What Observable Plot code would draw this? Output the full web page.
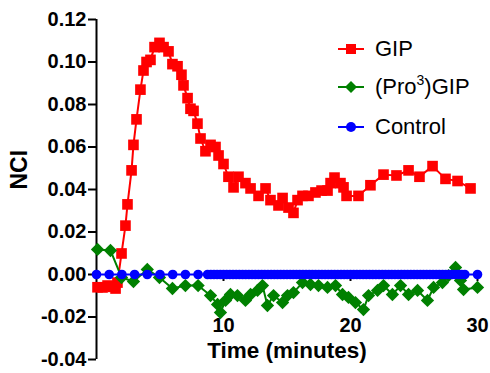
<!DOCTYPE html>
<html>
<head>
<meta charset="utf-8">
<script src="https://cdn.jsdelivr.net/npm/d3@7"></script>
<script src="https://cdn.jsdelivr.net/npm/@observablehq/plot@0.6"></script>
<style>
  html, body { margin: 0; padding: 0; background: #fff; }
  #wrap { position: relative; width: 490px; height: 373px; font-family: "Liberation Sans", Arial, sans-serif; }
  .row { position: absolute; left: 338px; height: 26px; display: flex; align-items: center; font-size: 22px; color: #000; white-space: nowrap; }
  .row svg { display: block; margin-right: 11px; }
  .sup { font-size: 14px; position: relative; top: -9px; }
</style>
</head>
<body>
<div id="wrap"></div>
<script>
// ---- Data ----
const gipTime = [0.08, 0.47, 0.87, 1.26, 1.5, 1.65, 1.97, 2.28, 2.44, 2.76, 2.91, 3.15, 3.46, 3.7, 3.94, 4.25, 4.57, 4.96, 5.28, 5.67, 5.98, 6.38, 6.69, 6.85, 7.17, 7.4, 7.64, 7.95, 8.19, 8.58, 8.98, 9.37, 9.61, 10.0, 10.39, 10.79, 11.18, 11.73, 12.13, 12.76, 13.31, 13.7, 14.33, 14.65, 15.12, 15.51, 15.83, 16.22, 16.69, 17.24, 17.72, 18.19, 18.43, 18.74, 19.21, 19.45, 19.69, 20.63, 21.57, 22.6, 23.62, 24.57, 25.43, 26.46, 27.48, 28.43, 29.45];
const gipValue = [-0.0060, -0.0061, -0.0052, -0.0058, -0.0066, -0.0038, 0.0099, 0.023, 0.033, 0.049, 0.061, 0.073, 0.087, 0.096, 0.100, 0.101, 0.107, 0.109, 0.107, 0.105, 0.099, 0.098, 0.094, 0.089, 0.083, 0.078, 0.077, 0.071, 0.064, 0.058, 0.061, 0.060, 0.056, 0.052, 0.046, 0.041, 0.046, 0.043, 0.0405, 0.037, 0.0405, 0.035, 0.0325, 0.036, 0.0315, 0.029, 0.035, 0.037, 0.037, 0.0386, 0.0395, 0.0395, 0.043, 0.0456, 0.043, 0.041, 0.037, 0.037, 0.042, 0.047, 0.0466, 0.049, 0.046, 0.051, 0.045, 0.044, 0.0405];

const proTime = [0.08, 1.1, 1.97, 2.91, 4.0, 4.96, 5.98, 7.0, 8.0, 8.98, 9.53, 9.76, 10.16, 10.55, 11.1, 11.73, 12.13, 12.68, 13.07, 13.46, 13.94, 14.65, 15.04, 15.51, 16.22, 16.85, 17.48, 18.19, 18.82, 19.37, 19.84, 20.39, 21.02, 21.42, 22.13, 22.6, 23.3, 23.94, 24.57, 25.28, 26.06, 26.54, 27.24, 27.72, 28.27, 28.66, 28.9, 30.0];
const proValue = [0.0118, 0.0113, -0.0014, -0.0033, 0.0024, -0.0014, -0.0066, -0.0052, -0.0052, -0.0099, -0.0141, -0.0179, -0.0122, -0.0094, -0.0099, -0.0122, -0.0094, -0.0075, -0.0052, -0.0146, -0.0099, -0.0132, -0.0099, -0.0085, -0.0038, -0.0047, -0.0052, -0.0061, -0.0052, -0.0094, -0.0108, -0.0132, -0.0165, -0.0099, -0.0075, -0.0052, -0.0094, -0.0052, -0.0094, -0.0075, -0.0122, -0.0061, -0.0038, -0.0005, 0.0033, -0.0028, -0.0071, -0.0061];

const controlTime = [0, 1, 2, 3, 4, 5, 6, 7, 8,
  8.75, 9, 9.25, 9.5, 9.75, 10, 10.25, 10.5, 10.75, 11, 11.25, 11.5, 11.75, 12, 12.25, 12.5, 12.75,
  13, 13.25, 13.5, 13.75, 14, 14.25, 14.5, 14.75, 15, 15.25, 15.5, 15.75, 16, 16.25, 16.5, 16.75,
  17, 17.25, 17.5, 17.75, 18, 18.25, 18.5, 18.75, 19, 19.25, 19.5, 19.75, 20, 20.25, 20.5, 20.75,
  21, 21.25, 21.5, 21.75, 22, 22.25, 22.5, 22.75, 23, 23.25, 23.5, 23.75, 24, 24.25, 24.5, 24.75,
  25, 25.25, 25.5, 25.75, 26, 26.25, 26.5, 26.75, 27, 27.25, 27.5, 27.75, 28, 28.25, 28.5, 28.75,
  29, 30];
const controlValue = [0, 0, 0, 0, 0, 0, 0, 0, 0,
  0, 0, 0, 0, 0, 0, 0, 0, 0, 0, 0, 0, 0, 0, 0, 0, 0,
  0, 0, 0, 0, 0, 0, 0, 0, 0, 0, 0, 0, 0, 0, 0, 0,
  0, 0, 0, 0, 0, 0, 0, 0, 0, 0, 0, 0, 0, 0, 0, 0,
  0, 0, 0, 0, 0, 0, 0, 0, 0, 0, 0, 0, 0, 0, 0, 0,
  0, 0, 0, 0, 0, 0, 0, 0, 0, 0, 0, 0, 0, 0, 0, 0,
  0, 0];

const yTicks = [-0.04, -0.02, 0.00, 0.02, 0.04, 0.06, 0.08, 0.10, 0.12];
const xTicks = [10, 20, 30];
const seriesNames = ["GIP", "(Pro3)GIP", "Control"];
const colors = { gip: "#ff0000", pro: "#008000", ctrl: "#0000ff" };

const gip = gipTime.map((t, i) => ({ t, v: gipValue[i] }));
const pro = proTime.map((t, i) => ({ t, v: proValue[i] }));
const ctrl = controlTime.map((t, i) => ({ t, v: controlValue[i] }));

const chart = Plot.plot({
  width: 490,
  height: 373,
  marginLeft: 96,
  marginRight: 13,
  marginTop: 19,
  marginBottom: 14,
  style: { fontFamily: "'Liberation Sans', Arial, sans-serif", background: "#fff", color: "#000" },
  x: { domain: [0, 30], axis: null },
  y: { domain: [-0.04, 0.12], axis: null },
  marks: [
    Plot.axisY(yTicks, { tickSize: 8, tickPadding: 2, tickFormat: d => d.toFixed(2), fontSize: 20, fontWeight: "bold", strokeWidth: 2, label: null }),
    Plot.ruleX([0], { stroke: "#000", strokeWidth: 2 }),
    Plot.ruleX(xTicks, { x: d => d, y1: 0, y2: 0, insetBottom: -7, stroke: "#000", strokeWidth: 2 }),
    Plot.text(xTicks, { x: d => d, frameAnchor: "bottom", dy: -28, text: d => String(d), fontSize: 20, fontWeight: "bold", fill: "#000" }),
    Plot.text(["Time (minutes)"], { frameAnchor: "bottom", text: d => d, dy: -2, fontSize: 22.5, fontWeight: "bold", fill: "#000" }),
    Plot.text(["NCI"], { frameAnchor: "left", text: d => d, dx: -77, rotate: -90, fontSize: 23, fontWeight: "bold", fill: "#000" }),
    Plot.line(gip, { x: "t", y: "v", stroke: colors.gip, strokeWidth: 2 }),
    Plot.dot(gip, { x: "t", y: "v", symbol: "square", r: 6, fill: colors.gip }),
    Plot.line(pro, { x: "t", y: "v", stroke: colors.pro, strokeWidth: 2 }),
    Plot.dot(pro, { x: "t", y: "v", symbol: "diamond2", r: 6, fill: colors.pro }),
    Plot.line(ctrl, { x: "t", y: "v", stroke: colors.ctrl, strokeWidth: 2 }),
    Plot.dot(ctrl, { x: "t", y: "v", symbol: "circle", r: 4.8, fill: colors.ctrl })
  ]
});

const wrap = document.getElementById("wrap");
wrap.appendChild(chart);

// Legend (HTML overlay, top-right)
const legendRows = [
  { name: seriesNames[0], color: colors.gip, sym: "square", cy: 49 },
  { name: seriesNames[1], color: colors.pro, sym: "diamond", cy: 87 },
  { name: seriesNames[2], color: colors.ctrl, sym: "circle", cy: 127 }
];
for (const r of legendRows) {
  const row = document.createElement("div");
  row.className = "row";
  row.style.top = (r.cy - 13) + "px";
  let shape;
  if (r.sym === "square") shape = `<rect x="8" y="8" width="10" height="10" fill="${r.color}"/>`;
  else if (r.sym === "diamond") shape = `<path d="M13 7 L19 13 L13 19 L7 13 Z" fill="${r.color}"/>`;
  else shape = `<circle cx="13" cy="13" r="5" fill="${r.color}"/>`;
  const label = r.name === "(Pro3)GIP" ? `(Pro<span class="sup">3</span>)GIP` : r.name;
  row.innerHTML = `<svg width="26" height="26"><line x1="0" y1="13" x2="26" y2="13" stroke="${r.color}" stroke-width="2"/>${shape}</svg><span>${label}</span>`;
  wrap.appendChild(row);
}
</script>
</body>
</html>
